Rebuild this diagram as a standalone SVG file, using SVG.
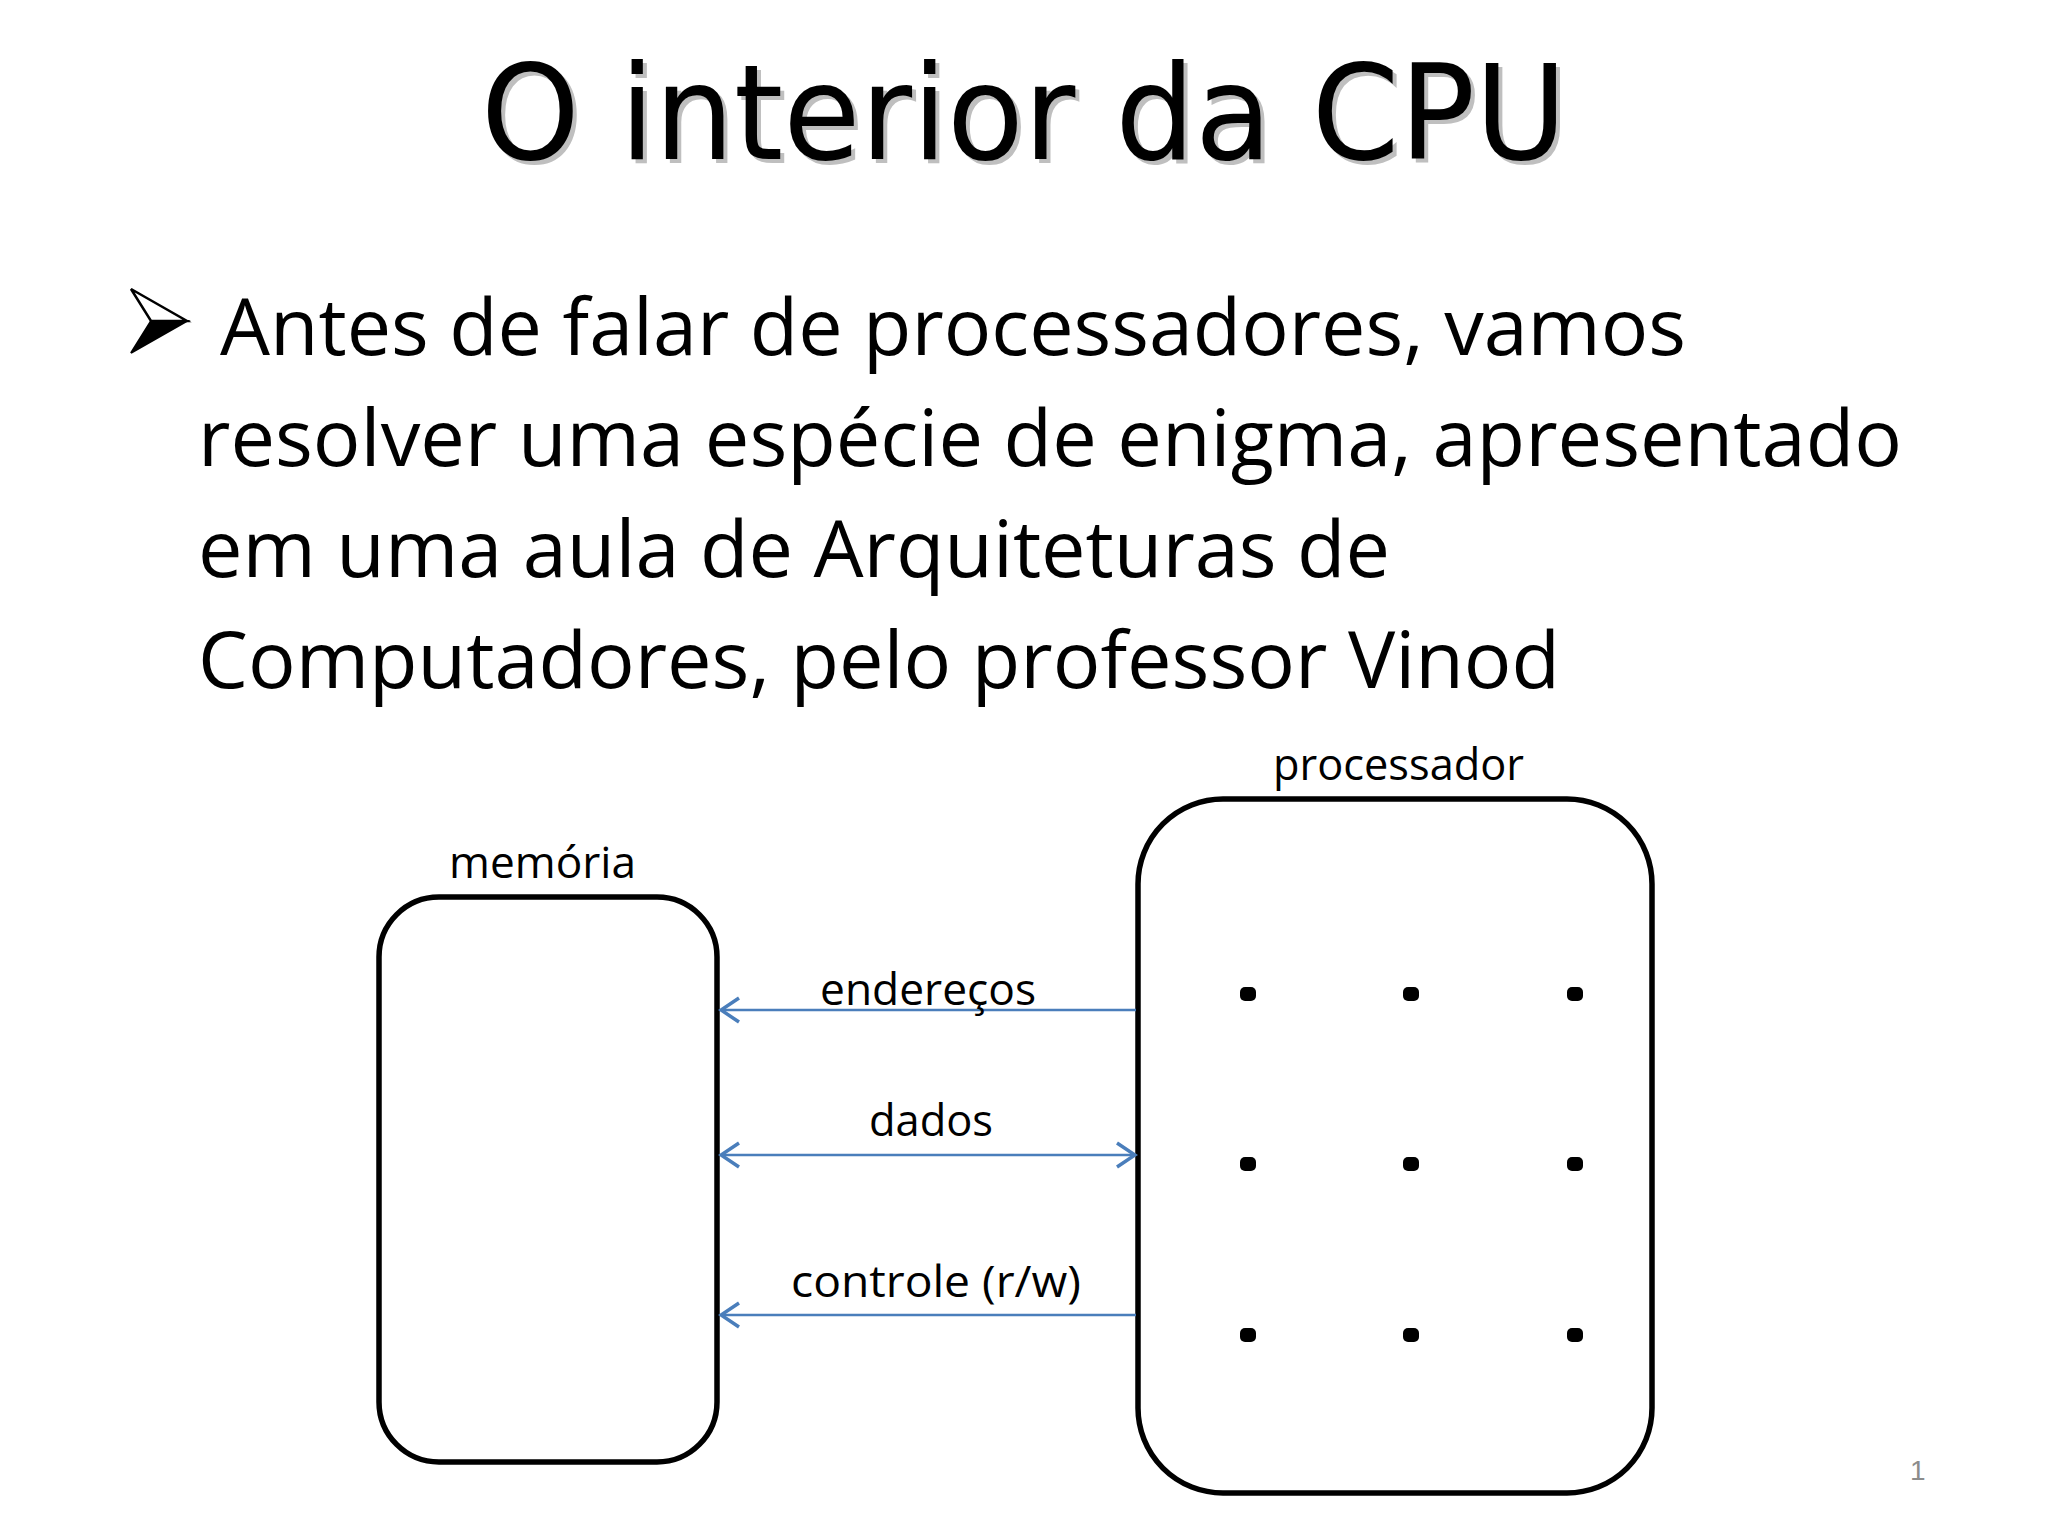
<svg xmlns="http://www.w3.org/2000/svg" width="2048" height="1536" viewBox="0 0 2048 1536">
<style>
.title{font-family:"DejaVu Sans",Verdana,sans-serif;font-size:131px;text-anchor:middle}
.body{font-family:"Open Sans","Noto Sans",sans-serif;font-size:78px;fill:#000}
.lbl{font-family:"Open Sans","Noto Sans",sans-serif;font-size:44px;fill:#000}
.box{fill:#fff;stroke:#000;stroke-width:5.5}
.conn{stroke:#4a7ebb;stroke-width:2.5;fill:none}
.dot{fill:#000}
</style>
<defs>
<marker id="chev" viewBox="0 0 24 28" refX="21" refY="14" markerWidth="24" markerHeight="28" markerUnits="userSpaceOnUse" orient="auto-start-reverse">
<path d="M3,2 L21,14 L3,26" fill="none" stroke="#4a7ebb" stroke-width="3.5"/>
</marker>
</defs>
<rect width="2048" height="1536" fill="#fff"/>
<g id="title">
<text class="title" x="1028" y="163" fill="#bfbfbf" textLength="1086" lengthAdjust="spacingAndGlyphs">O interior da CPU</text>
<text class="title" x="1024" y="159" fill="#000" textLength="1086" lengthAdjust="spacingAndGlyphs">O interior da CPU</text>
</g>
<g id="bullet">
<path d="M131,289 L187,321 L151,321 Z" fill="#fff" stroke="#000" stroke-width="2.5" stroke-linejoin="miter"/>
<path d="M151,321 L187,321 L131,353 Z" fill="#000" stroke="#000" stroke-width="2"/>
</g>
<g id="body">
<text class="body" x="220" y="355" textLength="1466" lengthAdjust="spacingAndGlyphs">Antes de falar de processadores, vamos</text>
<text class="body" x="198" y="466" textLength="1704" lengthAdjust="spacingAndGlyphs">resolver uma espécie de enigma, apresentado</text>
<text class="body" x="198" y="577" textLength="1192" lengthAdjust="spacingAndGlyphs">em uma aula de Arquiteturas de</text>
<text class="body" x="198" y="688" textLength="1362" lengthAdjust="spacingAndGlyphs">Computadores, pelo professor Vinod</text>
</g>
<g id="memoria">
<rect class="box" x="379" y="897" width="338" height="565" rx="60" ry="60"/>
<text class="lbl" x="449" y="878" textLength="187" lengthAdjust="spacingAndGlyphs">memória</text>
</g>
<g id="processador">
<rect class="box" x="1138" y="799" width="514" height="694" rx="85" ry="85"/>
<text class="lbl" x="1273" y="780" textLength="251" lengthAdjust="spacingAndGlyphs">processador</text>
<g class="dot">
<rect x="1240" y="987" width="16" height="14" rx="5"/>
<rect x="1403" y="987" width="16" height="14" rx="5"/>
<rect x="1567" y="987" width="16" height="14" rx="5"/>
<rect x="1240" y="1157" width="16" height="14" rx="5"/>
<rect x="1403" y="1157" width="16" height="14" rx="5"/>
<rect x="1567" y="1157" width="16" height="14" rx="5"/>
<rect x="1240" y="1328" width="16" height="14" rx="5"/>
<rect x="1403" y="1328" width="16" height="14" rx="5"/>
<rect x="1567" y="1328" width="16" height="14" rx="5"/>
</g>
</g>
<g id="connectors">
<line class="conn" x1="1136" y1="1010" x2="721" y2="1010" marker-end="url(#chev)"/>
<line class="conn" x1="721" y1="1155" x2="1135" y2="1155" marker-start="url(#chev)" marker-end="url(#chev)"/>
<line class="conn" x1="1136" y1="1315" x2="721" y2="1315" marker-end="url(#chev)"/>
<text class="lbl" x="820" y="1005" textLength="216" lengthAdjust="spacingAndGlyphs">endereços</text>
<text class="lbl" x="869" y="1136" textLength="124" lengthAdjust="spacingAndGlyphs">dados</text>
<text class="lbl" x="791" y="1297" textLength="290" lengthAdjust="spacingAndGlyphs">controle (r/w)</text>
</g>
<text x="1910" y="1480" font-family="'Liberation Sans',sans-serif" font-size="28" fill="#8c8c8c">1</text>
</svg>
